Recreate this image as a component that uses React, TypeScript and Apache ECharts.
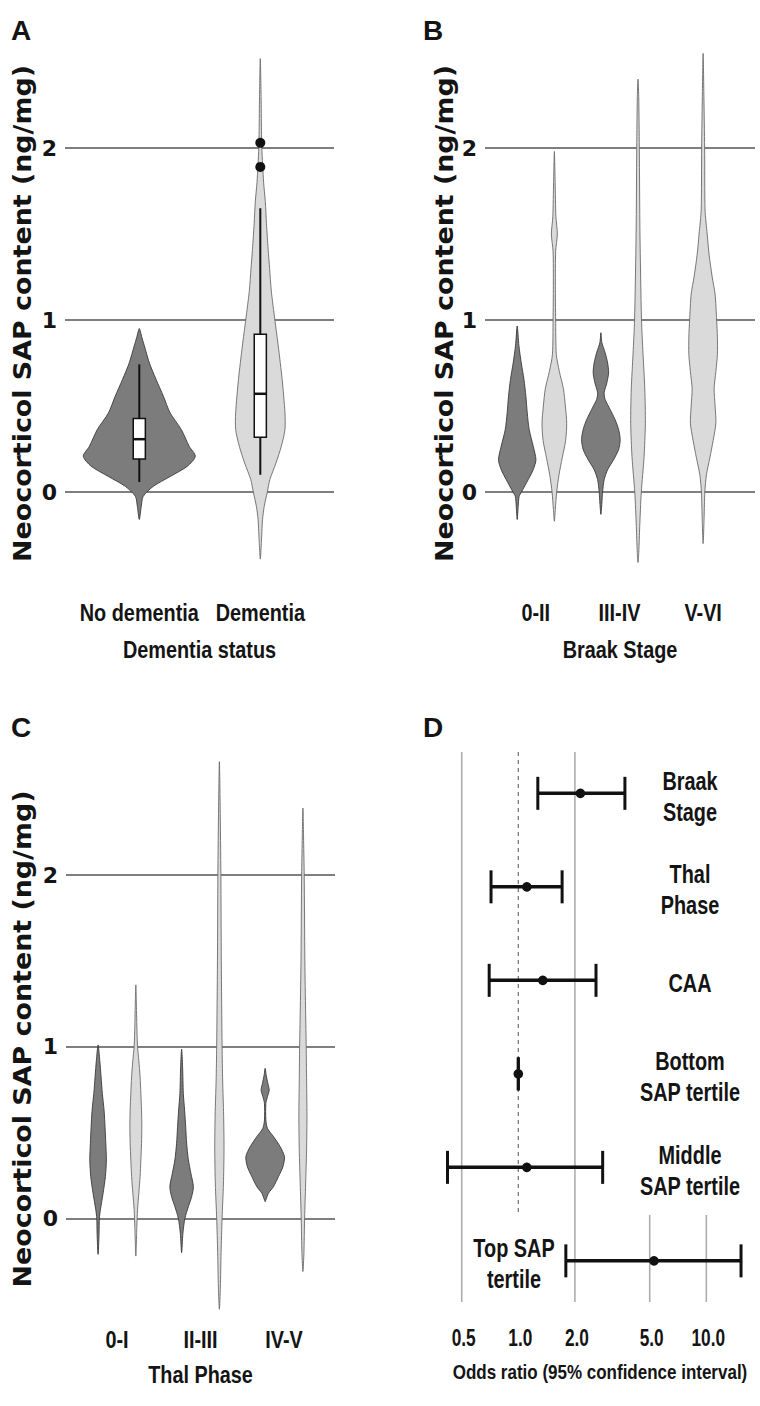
import React, { useEffect, useRef } from "react";
import * as echarts from "echarts";

// ---------------- Panel A: dementia status ----------------
const dementiaCategories = ["No dementia", "Dementia"];
// violin profiles: [SAP content (ng/mg), relative density]
const noDementiaDensity = [
  [0.95, 0], [0.9, 0.045], [0.85, 0.09], [0.75, 0.18], [0.654, 0.3], [0.557, 0.43],
  [0.46, 0.55], [0.363, 0.75], [0.266, 0.89], [0.208, 1.0], [0.15, 0.86], [0.09, 0.55],
  [0.033, 0.25], [-0.025, 0.07], [-0.083, 0.035], [-0.16, 0],
];
const dementiaDensity = [
  [2.52, 0], [2.3, 0.014], [2.1, 0.021], [2.0, 0.027], [1.8, 0.059], [1.69, 0.089],
  [1.56, 0.11], [1.41, 0.14], [1.3, 0.166], [1.17, 0.196], [1.0, 0.26], [0.85, 0.32],
  [0.654, 0.39], [0.46, 0.44], [0.363, 0.44], [0.266, 0.375], [0.169, 0.28], [0.072, 0.17],
  [0, 0.125], [-0.083, 0.07], [-0.16, 0.04], [-0.3, 0.018], [-0.39, 0],
];
// [min, Q1, median, Q3, max]
const dementiaBoxStats = [
  [0.058, 0.192, 0.307, 0.427, 0.742],
  [0.1, 0.318, 0.571, 0.917, 1.65],
];
const dementiaOutliers = [[2, 2.03], [2, 1.89]];

// ---------------- Panel B: Braak stage ----------------
const braakCategories = ["0-II", "III-IV", "V-VI"];
const braak02NoDementia = [
  [0.965, 0], [0.85, 0.088], [0.75, 0.21], [0.654, 0.35], [0.557, 0.45], [0.46, 0.52],
  [0.363, 0.62], [0.266, 0.83], [0.188, 0.97], [0.13, 0.83], [0.072, 0.57], [0, 0.22],
  [-0.025, 0.1], [-0.083, 0.05], [-0.16, 0],
];
const braak02Dementia = [
  [1.98, 0], [1.8, 0.04], [1.6, 0.08], [1.5, 0.155], [1.4, 0.067], [1.2, 0.052], [1.0, 0.067],
  [0.8, 0.1], [0.7, 0.26], [0.6, 0.47], [0.5, 0.57], [0.4, 0.64], [0.3, 0.585], [0.2, 0.41],
  [0.1, 0.24], [0, 0.12], [-0.1, 0.05], [-0.17, 0],
];
const braak34NoDementia = [
  [0.926, 0], [0.868, 0.052], [0.81, 0.22], [0.75, 0.35], [0.693, 0.4], [0.635, 0.31],
  [0.577, 0.17], [0.538, 0.22], [0.48, 0.48], [0.42, 0.74], [0.363, 0.92], [0.305, 1.0],
  [0.247, 0.92], [0.188, 0.66], [0.13, 0.35], [0.072, 0.17], [0, 0.088], [-0.064, 0.052],
  [-0.13, 0],
];
const braak34Dementia = [
  [2.4, 0], [2.3, 0.036], [2.0, 0.067], [1.5, 0.1], [1.0, 0.18], [0.8, 0.26], [0.6, 0.35],
  [0.4, 0.38], [0.2, 0.31], [0, 0.17], [-0.2, 0.088], [-0.35, 0.04], [-0.41, 0],
];
const braak56Dementia = [
  [2.55, 0], [2.3, 0.04], [2.0, 0.078], [1.64, 0.1], [1.5, 0.21], [1.38, 0.31], [1.25, 0.47],
  [1.15, 0.62], [1.0, 0.7], [0.9, 0.74], [0.8, 0.74], [0.7, 0.66], [0.6, 0.57], [0.5, 0.62],
  [0.4, 0.66], [0.3, 0.52], [0.2, 0.35], [0.1, 0.17], [0, 0.088], [-0.15, 0.05], [-0.3, 0],
];

// ---------------- Panel C: Thal phase ----------------
const thalCategories = ["0-I", "II-III", "IV-V"];
const thal01NoDementia = [
  [1.01, 0], [0.92, 0.088], [0.825, 0.155], [0.728, 0.22], [0.63, 0.31], [0.534, 0.36],
  [0.437, 0.4], [0.34, 0.43], [0.243, 0.38], [0.146, 0.26], [0.05, 0.12], [0, 0.067],
  [-0.087, 0.052], [-0.21, 0],
];
const thal01Dementia = [
  [1.36, 0], [1.21, 0.036], [1.12, 0.052], [1.0, 0.088], [0.92, 0.155], [0.825, 0.22],
  [0.728, 0.26], [0.63, 0.295], [0.534, 0.31], [0.437, 0.295], [0.34, 0.26], [0.243, 0.22],
  [0.146, 0.155], [0.05, 0.088], [-0.05, 0.052], [-0.22, 0],
];
const thal23NoDementia = [
  [0.985, 0], [0.88, 0.052], [0.728, 0.088], [0.63, 0.155], [0.534, 0.21], [0.437, 0.26],
  [0.34, 0.35], [0.262, 0.48], [0.184, 0.61], [0.126, 0.52], [0.068, 0.35], [0, 0.17],
  [-0.087, 0.067], [-0.2, 0],
];
const thal23Dementia = [
  [2.66, 0], [2.4, 0.04], [2.0, 0.078], [1.5, 0.1], [1.0, 0.14], [0.8, 0.17], [0.6, 0.22],
  [0.4, 0.24], [0.2, 0.21], [0, 0.14], [-0.2, 0.088], [-0.4, 0.052], [-0.53, 0],
];
const thal45NoDementia = [
  [0.874, 0], [0.835, 0.052], [0.786, 0.14], [0.748, 0.21], [0.709, 0.12], [0.67, 0.036],
  [0.573, 0.036], [0.524, 0.12], [0.476, 0.43], [0.417, 0.78], [0.359, 1.0], [0.3, 0.92],
  [0.243, 0.69], [0.184, 0.43], [0.146, 0.17], [0.107, 0.036], [0.097, 0],
];
const thal45Dementia = [
  [2.39, 0], [2.2, 0.036], [2.0, 0.067], [1.5, 0.1], [1.2, 0.14], [1.0, 0.17], [0.8, 0.19],
  [0.6, 0.21], [0.4, 0.19], [0.2, 0.14], [0, 0.088], [-0.2, 0.052], [-0.31, 0],
];

// ---------------- Panel D: odds ratios ----------------
const forestLabels = [
  "Braak\nStage", "Thal\nPhase", "CAA", "Bottom\nSAP tertile", "Middle\nSAP tertile", "Top SAP\ntertile",
];
const oddsRatio = [2.14, 1.11, 1.35, 1.0, 1.11, 5.27];
const ciLower = [1.27, 0.716, 0.7, 1.0, 0.42, 1.79];
const ciUpper = [3.69, 1.71, 2.59, 1.0, 2.81, 15.3];
const oddsTicks = [0.5, 1, 2, 5, 10];
const sapTicks = [0, 1, 2];

type Violin = { category: number; status: string; density: number[][] };

const dementiaViolins: Violin[] = [
  { category: 1, status: "No dementia", density: noDementiaDensity },
  { category: 2, status: "Dementia", density: dementiaDensity },
];
const braakViolins: Violin[] = [
  { category: 1, status: "No dementia", density: braak02NoDementia },
  { category: 1, status: "Dementia", density: braak02Dementia },
  { category: 2, status: "No dementia", density: braak34NoDementia },
  { category: 2, status: "Dementia", density: braak34Dementia },
  { category: 3, status: "Dementia", density: braak56Dementia },
];
const thalViolins: Violin[] = [
  { category: 1, status: "No dementia", density: thal01NoDementia },
  { category: 1, status: "Dementia", density: thal01Dementia },
  { category: 2, status: "No dementia", density: thal23NoDementia },
  { category: 2, status: "Dementia", density: thal23Dementia },
  { category: 3, status: "No dementia", density: thal45NoDementia },
  { category: 3, status: "Dementia", density: thal45Dementia },
];

const TEXT = "#141414";
const DARK = { fill: "#7c7c7c", stroke: "#3a3a3a" };
const LIGHT = { fill: "#dadada", stroke: "#6a6a6a" };
const COND = '"Liberation Sans", "Arial", sans-serif';
const WIDE = '"DejaVu Sans", sans-serif';

// condensed bold text (Liberation Sans Bold squeezed horizontally)
function condText(text: string, x: number, y: number, size: number, squeeze: number, extra: any = {}) {
  return {
    type: "text",
    x,
    y,
    scaleX: squeeze,
    style: {
      text,
      font: `bold ${size}px ${COND}`,
      fill: TEXT,
      align: "center",
      verticalAlign: "middle",
      textAlign: "center",
      textVerticalAlign: "middle",
      ...extra,
    },
  };
}

function violinSeries(axis: number, violins: Violin[], dodge: number, maxHalf: number) {
  return {
    type: "custom",
    xAxisIndex: axis,
    yAxisIndex: axis,
    clip: false,
    z: 3,
    data: violins.map((v, i) => [v.category, 1, i]),
    encode: { x: 0, y: 1 },
    renderItem: (params: any, api: any) => {
      const v = violins[params.dataIndex];
      const n = violins.filter((w) => w.category === v.category).length;
      const off = n === 1 ? 0 : v.status === "No dementia" ? -dodge : dodge;
      const cx = v.category + off;
      const d = v.density;
      const right = d.map(([val, w]) => api.coord([cx + w * maxHalf, val]));
      const left = d
        .slice(1, d.length - 1)
        .reverse()
        .map(([val, w]) => api.coord([cx - w * maxHalf, val]));
      const col = v.status === "No dementia" ? DARK : LIGHT;
      return {
        type: "polygon",
        shape: { points: right.concat(left), smooth: 0.25 },
        style: { fill: col.fill, stroke: col.stroke, lineWidth: 0.9 },
      };
    },
  };
}

// category tick labels, positioned from the axis coordinates
function categoryLabelSeries(axis: number, cats: string[], below: number) {
  return {
    type: "custom",
    xAxisIndex: axis,
    yAxisIndex: axis,
    clip: false,
    silent: true,
    z: 6,
    data: cats.map((_, i) => [i + 1, 0]),
    encode: { x: 0, y: 1 },
    renderItem: (params: any, api: any) => {
      const i = params.dataIndex;
      const p = api.coord([i + 1, 0]);
      return condText(cats[i], p[0], p[1] + below, 24.5, 0.81);
    },
  };
}

export default function App() {
  const ref = useRef<HTMLDivElement>(null);

  useEffect(() => {
    document.body.style.margin = "0";
    if (!ref.current) return;
    const chart = echarts.init(ref.current, null, { renderer: "svg" });

    const catAxis = (grid: number, min: number, max: number) => ({
      type: "value",
      gridIndex: grid,
      min,
      max,
      axisLine: { show: false },
      axisTick: { show: false },
      splitLine: { show: false },
      axisLabel: { show: false },
    });

    const sapAxis = (grid: number) => ({
      type: "value",
      gridIndex: grid,
      min: 0,
      max: 2,
      interval: 1,
      axisLine: { show: false },
      axisTick: { show: false },
      splitLine: { show: true, lineStyle: { color: "#555555", width: 1.7 } },
      axisLabel: {
        customValues: sapTicks,
        fontFamily: WIDE,
        fontWeight: "bold",
        fontSize: 22,
        color: TEXT,
        margin: 8,
      },
    });

    const D_TOP = 752;
    const D_BOTTOM = 1302;
    const D_DASH_END = 1213;
    const D_SHORT_START = 1215;

    const yTitle = (x: number, y: number) => ({
      type: "text",
      x,
      y,
      rotation: Math.PI / 2,
      scaleX: 1.12,
      style: {
        text: "Neocorticol SAP content (ng/mg)",
        font: `bold 24px ${WIDE}`,
        fill: TEXT,
        align: "center",
        verticalAlign: "middle",
        textAlign: "center",
        textVerticalAlign: "middle",
      },
    });
    const letter = (t: string, x: number, y: number) => ({
      type: "text",
      x,
      y,
      style: {
        text: t,
        font: `bold 28px ${COND}`,
        fill: TEXT,
        align: "center",
        verticalAlign: "middle",
        textAlign: "center",
        textVerticalAlign: "middle",
      },
    });

    const option: any = {
      animation: false,
      backgroundColor: "#ffffff",
      grid: [
        { left: 65, top: 148, width: 269, height: 344 },
        { left: 485, top: 148, width: 270, height: 344 },
        { left: 66, top: 875, width: 269, height: 343.3 },
        { left: 420, top: D_TOP, width: 334.3, height: D_BOTTOM - D_TOP },
      ],
      xAxis: [
        catAxis(0, 0.386, 2.609),
        catAxis(1, 0.393, 3.62),
        catAxis(2, 0.39, 3.61),
        catAxis(3, Math.log10(0.3), Math.log10(18)),
      ],
      yAxis: [
        sapAxis(0),
        sapAxis(1),
        sapAxis(2),
        { type: "value", gridIndex: 3, min: -0.442, max: 5.44, inverse: true, show: false },
      ],
      graphic: {
        elements: [
          letter("A", 21, 30),
          letter("B", 433, 30),
          letter("C", 21, 727),
          letter("D", 433, 727),
          yTitle(22.5, 313.5),
          yTitle(445, 313.5),
          yTitle(22.5, 1039),
          condText("Dementia status", 199.5, 650, 24.5, 0.81),
          condText("Braak Stage", 620, 650, 24.5, 0.81),
          condText("Thal Phase", 200.5, 1375, 24.5, 0.81),
          condText("Odds ratio (95% confidence interval)", 600, 1372, 20, 0.85),
        ],
      },
      series: [
        violinSeries(0, dementiaViolins, 0, 0.463),
        {
          type: "custom",
          xAxisIndex: 0,
          yAxisIndex: 0,
          clip: false,
          z: 4,
          data: dementiaBoxStats.map((s, i) => [i + 1, s[2]]),
          encode: { x: 0, y: 1 },
          renderItem: (params: any, api: any) => {
            const s = dementiaBoxStats[params.dataIndex];
            const x = params.dataIndex + 1;
            const hw = 0.05;
            const pMin = api.coord([x, s[0]]);
            const pMax = api.coord([x, s[4]]);
            const tl = api.coord([x - hw, s[3]]);
            const br = api.coord([x + hw, s[1]]);
            const ml = api.coord([x - hw, s[2]]);
            const mr = api.coord([x + hw, s[2]]);
            return {
              type: "group",
              children: [
                { type: "line", shape: { x1: pMin[0], y1: pMin[1], x2: pMax[0], y2: pMax[1] }, style: { stroke: "#111", lineWidth: 2 } },
                { type: "rect", shape: { x: tl[0], y: tl[1], width: br[0] - tl[0], height: br[1] - tl[1] }, style: { fill: "#fff", stroke: "#111", lineWidth: 1.5 } },
                { type: "line", shape: { x1: ml[0], y1: ml[1], x2: mr[0], y2: mr[1] }, style: { stroke: "#111", lineWidth: 2.5 } },
              ],
            };
          },
        },
        {
          type: "scatter",
          xAxisIndex: 0,
          yAxisIndex: 0,
          clip: false,
          z: 5,
          symbolSize: 10,
          itemStyle: { color: "#111", opacity: 1 },
          data: dementiaOutliers,
        },
        violinSeries(1, braakViolins, 0.222, 0.2307),
        violinSeries(2, thalViolins, 0.226, 0.231),
        categoryLabelSeries(0, dementiaCategories, 121),
        categoryLabelSeries(1, braakCategories, 121),
        categoryLabelSeries(2, thalCategories, 121),
        {
          type: "custom",
          xAxisIndex: 3,
          yAxisIndex: 3,
          clip: false,
          z: 1,
          data: oddsTicks.map((t) => [Math.log10(t), 0]),
          encode: { x: 0, y: 1 },
          renderItem: (params: any, api: any) => {
            const t = oddsTicks[params.dataIndex];
            const x = api.coord([Math.log10(t), 0])[0];
            const label = condText(t.toFixed(1), x + 2, D_BOTTOM + 35, 24, 0.72);
            let line: any;
            if (t === 1) {
              line = {
                type: "line",
                shape: { x1: x, y1: D_TOP, x2: x, y2: D_DASH_END },
                style: { stroke: "#7a7a7a", lineWidth: 1.3, lineDash: [4, 4] },
              };
            } else {
              const y1 = t >= 5 ? D_SHORT_START : D_TOP;
              line = {
                type: "line",
                shape: { x1: x, y1, x2: x, y2: D_BOTTOM },
                style: { stroke: "#adadad", lineWidth: 1.6 },
              };
            }
            return { type: "group", children: [line, label] };
          },
        },
        {
          type: "custom",
          xAxisIndex: 3,
          yAxisIndex: 3,
          clip: false,
          z: 3,
          data: oddsRatio.map((v, i) => [Math.log10(v), i]),
          encode: { x: 0, y: 1 },
          renderItem: (params: any, api: any) => {
            const i = params.dataIndex;
            const p = api.coord([Math.log10(oddsRatio[i]), i]);
            const lo = api.coord([Math.log10(ciLower[i]), i]);
            const hi = api.coord([Math.log10(ciUpper[i]), i]);
            const cap = 16.5;
            const labelX = i === forestLabels.length - 1 ? 514 : 690;
            return {
              type: "group",
              children: [
                { type: "line", shape: { x1: lo[0], y1: p[1], x2: hi[0], y2: p[1] }, style: { stroke: "#111", lineWidth: 3.5 } },
                { type: "line", shape: { x1: lo[0], y1: p[1] - cap, x2: lo[0], y2: p[1] + cap }, style: { stroke: "#111", lineWidth: 3 } },
                { type: "line", shape: { x1: hi[0], y1: p[1] - cap, x2: hi[0], y2: p[1] + cap }, style: { stroke: "#111", lineWidth: 3 } },
                { type: "circle", shape: { cx: p[0], cy: p[1], r: 4.8 }, style: { fill: "#111" } },
                condText(forestLabels[i], labelX, p[1] + 3, 26.5, 0.75, { lineHeight: 31 }),
              ],
            };
          },
        },
      ],
    };

    chart.setOption(option);
    return () => chart.dispose();
  }, []);

  return <div ref={ref} style={{ width: 760, height: 1406 }} />;
}
